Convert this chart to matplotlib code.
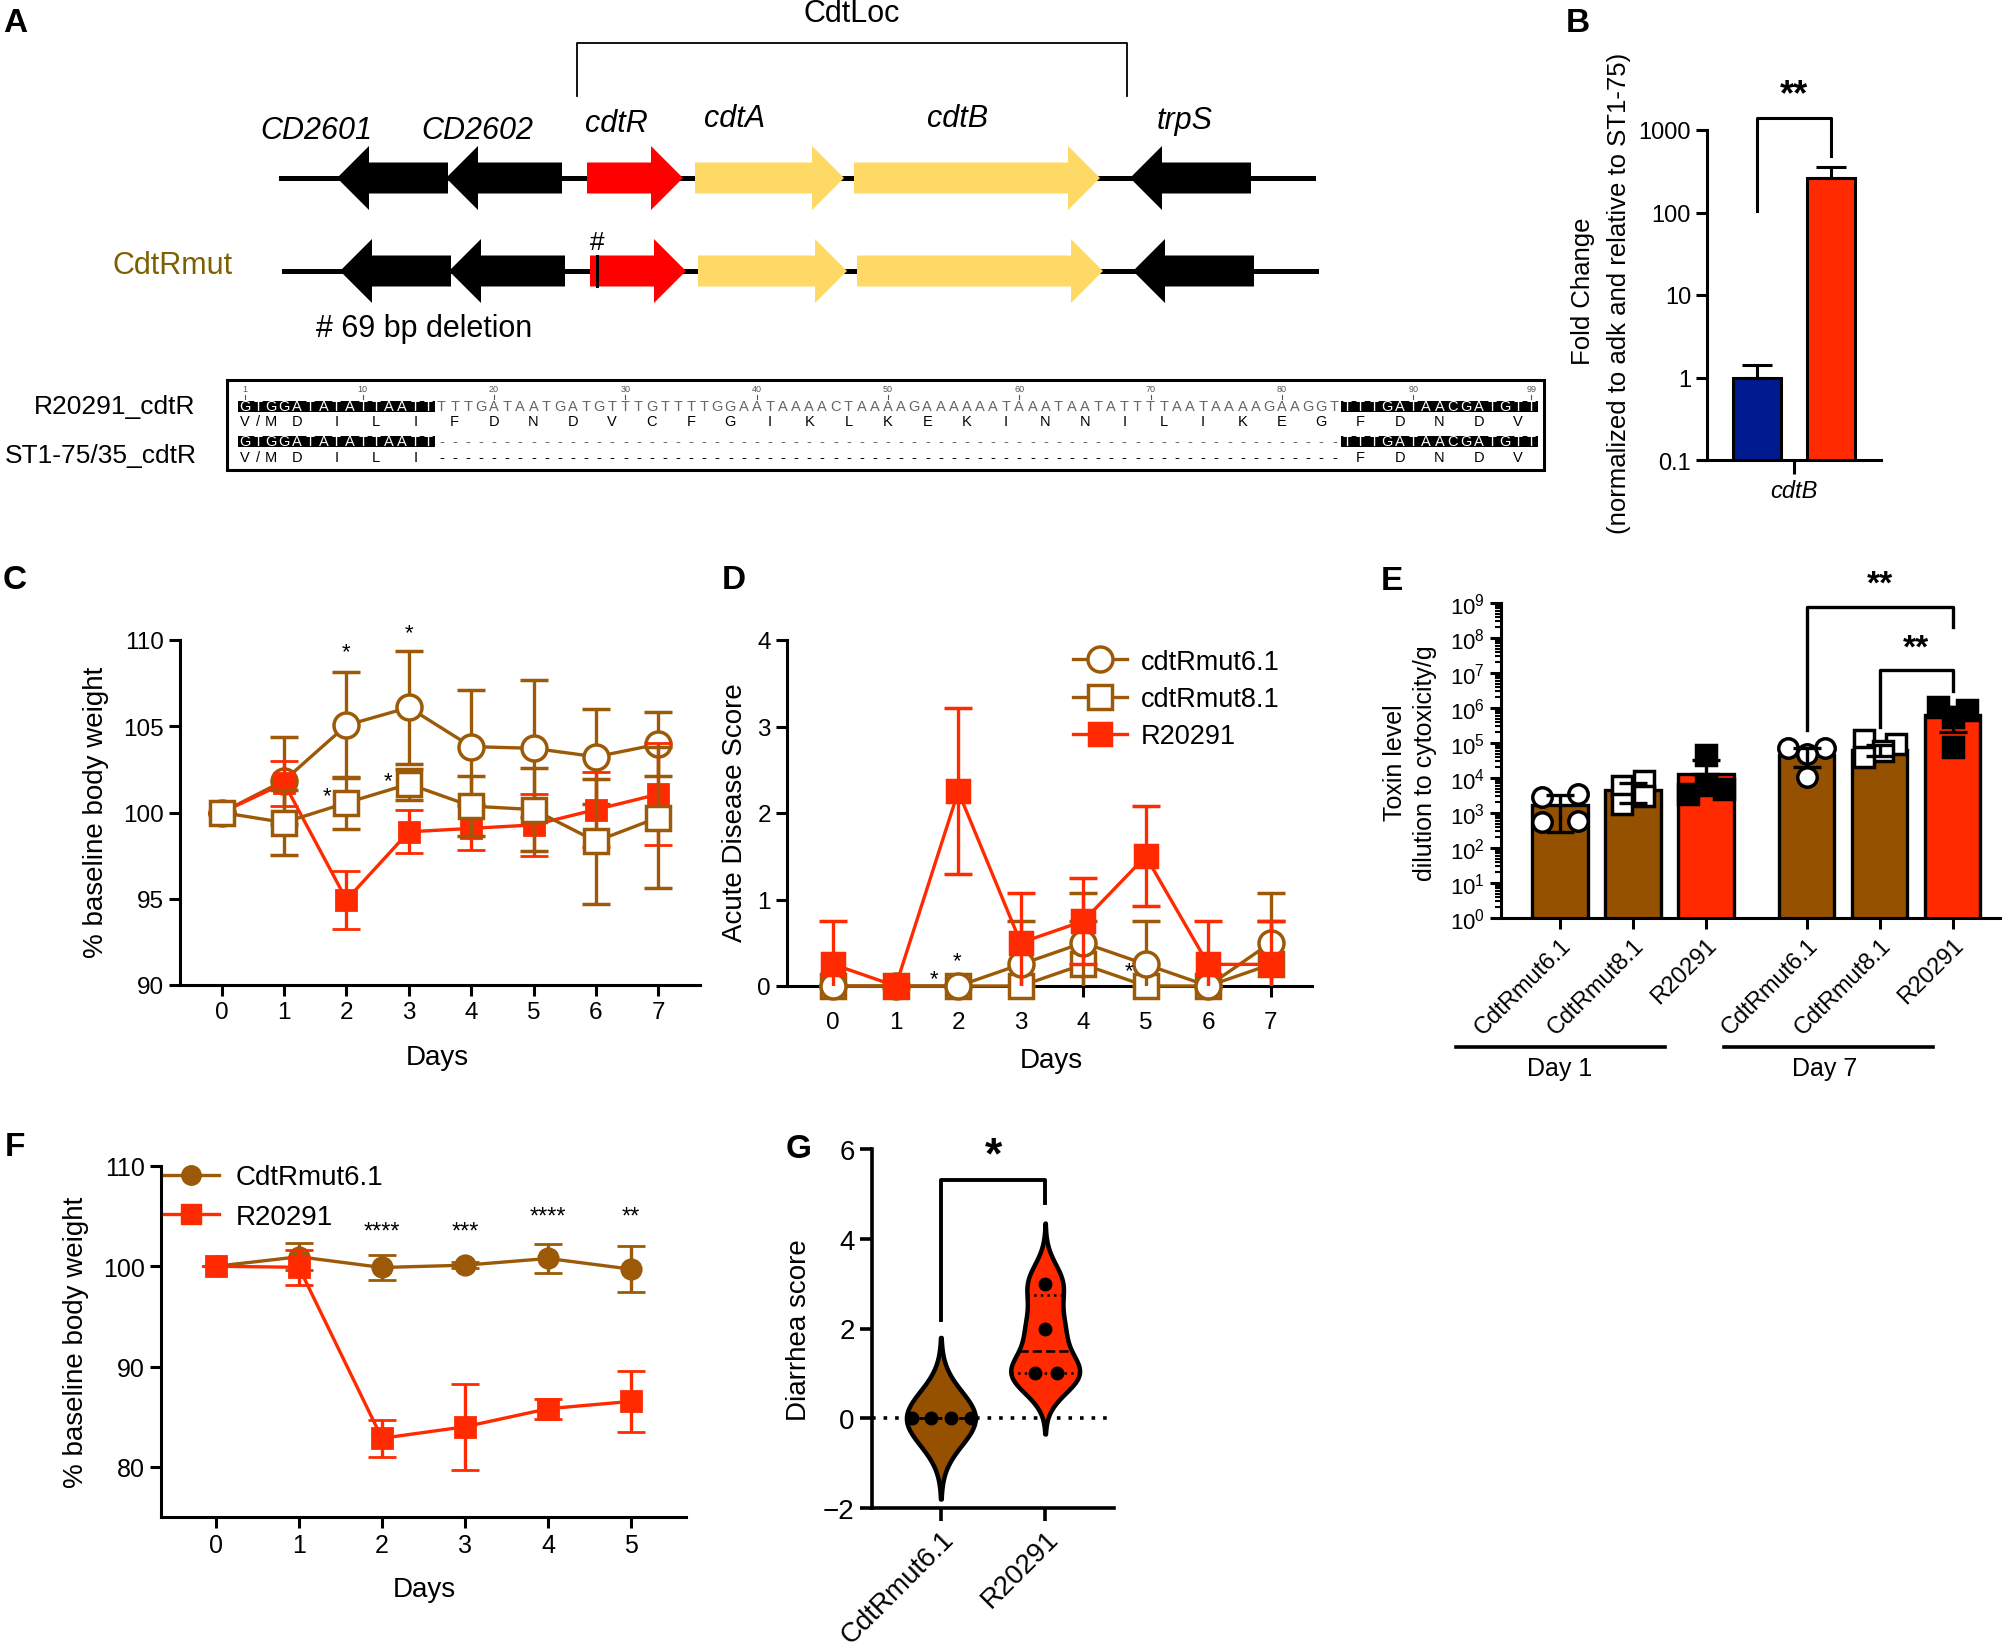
import numpy as np
import matplotlib
matplotlib.use('Agg')
import matplotlib.pyplot as plt
from matplotlib.patches import Polygon, Rectangle
from matplotlib.lines import Line2D
import matplotlib.ticker as mticker

plt.rcParams['font.family'] = ['Liberation Sans', 'DejaVu Sans']
plt.rcParams['mathtext.fontset'] = 'custom'
plt.rcParams['mathtext.rm'] = 'Liberation Sans'
plt.rcParams['mathtext.it'] = 'Liberation Sans:italic'
plt.rcParams['mathtext.bf'] = 'Liberation Sans:bold'

# ------------------------------------------------------------------ data
# Panel A: gene map (coordinates along the locus drawing)
gene_names = ['CD2601', 'CD2602', 'cdtR', 'cdtA', 'cdtB', 'trpS']
gene_left = [337, 446, 587, 695, 854, 1130]
gene_right = [448, 562, 683, 844, 1100, 1251]
gene_strand = [-1, -1, 1, 1, 1, -1]
gene_colors = ['black', 'black', '#FF0000', '#FFD966', '#FFD966', 'black']
locus_extent = [281, 1313]
cdtloc_extent = [577, 1127]
deletion_site = 597

seq_names = ['R20291_cdtR', 'ST1-75/35_cdtR']
seq_wt = ("GTGGATATATTAATT"
          "TTTGATAATGATGTTTGTTTTGGAATAAAACTAAAAGAAAAAATAAATAATATTTTAATAAAAGAAGGT"
          "TTTGATAACGATGTT")
seq_mut = "GTGGATATATTAATT" + "-" * 69 + "TTTGATAACGATGTT"
aa_wt = ['V/M', 'D', 'I', 'L', 'I', 'F', 'D', 'N', 'D', 'V', 'C', 'F', 'G', 'I', 'K',
         'L', 'K', 'E', 'K', 'I', 'N', 'N', 'I', 'L', 'I', 'K', 'E', 'G', 'F', 'D', 'N', 'D', 'V']
conserved_blocks = [(1, 15), (85, 99)]
seq_ticks = [1, 10, 20, 30, 40, 50, 60, 70, 80, 90, 99]

# Panel B
b_groups = ['ST1-75', 'R20291']
b_vals = [1.0, 265.0]
b_err = [0.4, 95.0]

# Panel C
days_c = [0, 1, 2, 3, 4, 5, 6, 7]
c_mut61 = [100, 101.85, 105.06, 106.09, 103.82, 103.72, 103.23, 103.96]
c_mut61_sd = [0, 2.5, 3.06, 3.26, 3.3, 3.97, 2.76, 1.87]
c_mut81 = [100, 99.42, 100.56, 101.65, 100.37, 100.17, 98.33, 99.71]
c_mut81_sd = [0, 1.9, 1.5, 0.9, 1.75, 2.4, 3.63, 4.08]
c_r20291 = [100, 101.7, 94.94, 98.88, 99.08, 99.28, 100.17, 101.06]
c_r20291_sd = [0, 1.3, 1.67, 1.24, 1.28, 1.8, 2.17, 2.96]

# Panel D
days_d = [0, 1, 2, 3, 4, 5, 6, 7]
d_mut61 = [0, 0, 0, 0.25, 0.5, 0.25, 0, 0.5]
d_mut61_sd = [0, 0, 0, 0.5, 0.58, 0.5, 0, 0.58]
d_mut81 = [0, 0, 0, 0, 0.25, 0, 0, 0.25]
d_mut81_sd = [0, 0, 0, 0, 0.5, 0, 0, 0.5]
d_r20291 = [0.25, 0, 2.25, 0.5, 0.75, 1.5, 0.25, 0.25]
d_r20291_sd = [0.5, 0, 0.96, 0.58, 0.5, 0.58, 0.5, 0.5]

# Panel E
e_labels = ['CdtRmut6.1', 'CdtRmut8.1', 'R20291', 'CdtRmut6.1', 'CdtRmut8.1', 'R20291']
e_days = ['Day 1', 'Day 7']
e_means = [1.7e3, 4.4e3, 1.3e4, 4.6e4, 6.4e4, 6.4e5]
e_err_lo = [2.9e2, 1.9e3, 1.3e4, 2.0e4, 4.3e4, 2.0e5]
e_err_hi = [3.3e3, 7.0e3, 3.2e4, 7.4e4, 8.5e4, 1.1e6]
e_points = [[2.9e3, 3.6e3, 5.5e2, 5.9e2],
            [5.9e3, 8.0e3, 1.85e3, 3.1e3],
            [4.4e4, 3.6e3, 6.2e3, 5.0e3],
            [7.2e4, 7.2e4, 5.0e4, 1.07e4],
            [1.2e5, 9.5e4, 6.0e4, 4.0e4],
            [1.07e6, 8.5e5, 5.5e5, 7.7e4]]

# Panel F
days_f = [0, 1, 2, 3, 4, 5]
f_mut61 = [100, 100.95, 99.88, 100.11, 100.78, 99.71]
f_mut61_sd = [0, 1.34, 1.2, 0.3, 1.47, 2.3]
f_r20291 = [100, 99.9, 82.85, 84.0, 85.8, 86.53]
f_r20291_sd = [0, 1.75, 1.83, 4.27, 1.0, 3.07]
f_stars = ['', '', '****', '***', '****', '**']

# Panel G
g_labels = ['CdtRmut6.1', 'R20291']
g_mut61 = [0, 0, 0, 0]
g_r20291 = [1, 1, 2, 3]

# ------------------------------------------------------------------ style
W, H = 2015, 1649
BROWN = '#9C5A08'
BROWN_E = '#955000'
RED = '#FF2A00'
BLUE = '#001A8F'
OLIVE = '#7F6000'

fig = plt.figure(figsize=(W / 100, H / 100), dpi=100)
ov = fig.add_axes([0, 0, 1, 1])
ov.set_xlim(0, W)
ov.set_ylim(H, 0)
ov.axis('off')


def ax_px(x0, y0, x1, y1):
    return fig.add_axes([x0 / W, 1 - y1 / H, (x1 - x0) / W, (y1 - y0) / H])


def style_axes(ax, lw=2.2, fs=18, tl=7):
    for s in ['top', 'right']:
        ax.spines[s].set_visible(False)
    for s in ['left', 'bottom']:
        ax.spines[s].set_linewidth(lw)
    ax.tick_params(width=lw, length=tl, labelsize=fs, direction='out')


# panel letters
for lab, (x, y) in zip('ABCDEFG', [(15, 23), (1578, 23), (15, 581), (734, 581),
                                   (1392, 582), (15, 1148), (799, 1150)]):
    ov.text(x, y, lab, fontsize=24, fontweight='bold', ha='center', va='center')

# ------------------------------------------------------------------ Panel A
label_pos = [(316, 131), (477, 131), (616, 124), (735, 119), (958, 119), (1185, 121)]
rows_y = [179, 272]
row_shift = [0, 3]
body, head, hl = 15.5, 32, 32
for r, yc in enumerate(rows_y):
    sh = row_shift[r]
    ov.plot([locus_extent[0] + sh, locus_extent[1] + sh], [yc, yc], color='black', lw=3.6, zorder=1)
    for name, l, rr, st, col in zip(gene_names, gene_left, gene_right, gene_strand, gene_colors):
        l += sh
        rr += sh
        if st > 0:
            pts = [(l, yc - body), (rr - hl, yc - body), (rr - hl, yc - head), (rr, yc),
                   (rr - hl, yc + head), (rr - hl, yc + body), (l, yc + body)]
        else:
            pts = [(rr, yc - body), (l + hl, yc - body), (l + hl, yc - head), (l, yc),
                   (l + hl, yc + head), (l + hl, yc + body), (rr, yc + body)]
        ov.add_patch(Polygon(pts, closed=True, facecolor=col, edgecolor='none', zorder=2))
for name, (x, y) in zip(gene_names, label_pos):
    ov.text(x, y, name, fontsize=22, fontstyle='italic', ha='center', va='center')

ov.plot([cdtloc_extent[0], cdtloc_extent[0], cdtloc_extent[1], cdtloc_extent[1]],
        [97, 44, 44, 97], color='black', lw=1.3)
ov.text(852, 14, 'CdtLoc', fontsize=22, ha='center', va='center')
ov.plot([deletion_site, deletion_site], [257, 287], color='black', lw=2.2, zorder=3)
ov.text(deletion_site, 243, '#', fontsize=19, ha='center', va='center')
ov.text(173, 266, 'CdtRmut', fontsize=22, color=OLIVE, ha='center', va='center')
ov.text(424, 329, '# 69 bp deletion', fontsize=22, ha='center', va='center')

# alignment
ov.add_patch(Rectangle((227, 381), 1317, 90, fill=False, lw=2.2, edgecolor='black'))
x0s, dx = 238, 13.13


def xpos(i):
    return x0s + (i - 0.5) * dx


def in_block(i):
    return any(a <= i <= b for a, b in conserved_blocks)


for t in seq_ticks:
    ov.text(xpos(t), 390, str(t), fontsize=6.5, color='#555555', ha='center', va='center')
    ov.plot([xpos(t), xpos(t)], [396, 400], color='#555555', lw=0.8)
for (a, b) in conserved_blocks:
    for yc in [407, 442]:
        ov.add_patch(Rectangle((xpos(a) - dx / 2, yc - 5.5), (b - a + 1) * dx, 11,
                               facecolor='black', edgecolor='none', zorder=2))
for row_seq, yc in [(seq_wt, 407), (seq_mut, 442)]:
    for i, ch in enumerate(row_seq, start=1):
        col = 'white' if in_block(i) else '#666666'
        ov.text(xpos(i), yc, ch, fontsize=10.5, color=col, ha='center', va='center', zorder=3)


def draw_aa(k, aa, yc):
    c = 3 * k + 2
    if len(aa) == 3:
        for j, ch in enumerate(aa):
            ov.text(xpos(c - 1 + j), yc, ch, fontsize=10.5, ha='center', va='center')
    else:
        ov.text(xpos(c), yc, aa, fontsize=10.5, ha='center', va='center')


for k, aa in enumerate(aa_wt):
    draw_aa(k, aa, 422)
    if in_block(3 * k + 2):
        draw_aa(k, aa, 458)
for i in range(1, 100):
    if not in_block(i):
        ov.text(xpos(i), 458, '-', fontsize=10.5, ha='center', va='center')
ov.text(195, 407, seq_names[0], fontsize=19, ha='right', va='center')
ov.text(197, 456, seq_names[1], fontsize=19, ha='right', va='center')

# ------------------------------------------------------------------ Panel B
axB = ax_px(1707, 131, 1881, 461)
style_axes(axB, fs=17, tl=8)
axB.set_yscale('log')
bx = [0, 1]
axB.bar(bx, b_vals, width=0.65, color=[BLUE, RED], edgecolor='black', linewidth=2.2, zorder=2)
axB.errorbar(bx, b_vals, yerr=[[0, 0], b_err], fmt='none', ecolor='black', elinewidth=2.2,
             capsize=11, capthick=2.2, zorder=3)
axB.set_xlim(-0.68, 1.68)
axB.set_ylim(0.1, 1000)
axB.set_yticks([0.1, 1, 10, 100, 1000])
axB.set_yticklabels(['0.1', '1', '10', '100', '1000'])
axB.yaxis.set_minor_locator(mticker.NullLocator())
axB.set_xticks([0.5])
axB.set_xticklabels(['cdtB'], fontstyle='italic')
axB.tick_params(axis='x', length=10)
axB.plot([0, 0, 1, 1], [105, 1380, 1380, 478], color='black', lw=2.2, clip_on=False)
axB.text(0.5, 2700, '**', fontsize=26, fontweight='bold', ha='center', va='center', clip_on=False)
ov.text(1583, 291, 'Fold Change', rotation=90, fontsize=18.5, ha='center', va='center')
ov.text(1619, 293, '(normalized to adk and relative to ST1-75)', rotation=90, fontsize=18.5,
        ha='center', va='center')

# ------------------------------------------------------------------ Panel C
axC = ax_px(180, 641, 700, 986)
style_axes(axC, fs=17.5, tl=8)
ebk = dict(elinewidth=2.4, capsize=10, capthick=2.4, lw=2.4)
axC.errorbar(days_c, c_mut61, yerr=c_mut61_sd, fmt='-o', color=BROWN, mfc='white', mec=BROWN,
             ms=18, mew=2.5, zorder=3, clip_on=False, **ebk)
axC.errorbar(days_c, c_r20291, yerr=c_r20291_sd, fmt='-s', color=RED, mfc=RED, mec=RED,
             ms=15, mew=2, zorder=4, clip_on=False, **ebk)
axC.errorbar(days_c, c_mut81, yerr=c_mut81_sd, fmt='-s', color=BROWN, mfc='white', mec=BROWN,
             ms=17, mew=2.5, zorder=5, clip_on=False, **ebk)
axC.set_xlim(-0.67, 7.67)
axC.set_ylim(90, 110)
axC.set_yticks([90, 95, 100, 105, 110])
axC.set_xticks(days_c)
for x, y in [(2, 109.3), (3, 110.45), (1.68, 100.95), (2.67, 101.85)]:
    axC.text(x, y, '*', fontsize=16, ha='center', va='center', clip_on=False)
ov.text(437, 1058, 'Days', fontsize=20, ha='center', va='center')
ov.text(96, 812, '% baseline body weight', rotation=90, fontsize=20, ha='center', va='center')

# ------------------------------------------------------------------ Panel D
axD = ax_px(787, 641, 1312, 987)
style_axes(axD, fs=17.5, tl=8)
d_series = [(d_mut61, d_mut61_sd, 'o', BROWN, 'white', 18, 4, 'cdtRmut6.1'),
            (d_mut81, d_mut81_sd, 's', BROWN, 'white', 17, 3, 'cdtRmut8.1'),
            (d_r20291, d_r20291_sd, 's', RED, RED, 16, 5, 'R20291')]
d_handles = []
for vals, sd, mk, col, fc, ms, zo, lab in d_series:
    cont = axD.errorbar(days_d, vals, yerr=sd, fmt='-' + mk, color=col, mfc=fc, mec=col,
                        ms=ms, mew=2.5, zorder=zo, **ebk)
    cont[0].set_clip_on(False)
    d_handles.append(Line2D([], [], color=col, marker=mk, ms=ms, mfc=fc, mec=col, mew=2.5,
                            lw=2.4, label=lab))
axD.set_xlim(-0.74, 7.66)
axD.set_ylim(0, 4)
axD.set_yticks([0, 1, 2, 3, 4])
axD.set_xticks(days_d)
axD.tick_params(axis='x', pad=10)
for x, y in [(1.62, 0.08), (1.98, 0.29), (4.73, 0.18)]:
    axD.text(x, y, '*', fontsize=16, ha='center', va='center', clip_on=False, zorder=6)
axD.legend(handles=d_handles, loc='upper left', bbox_to_anchor=(0.545, 0.975),
           frameon=False, fontsize=19.5, handlelength=2.0, handletextpad=0.5,
           borderpad=0, borderaxespad=0, labelspacing=0.42)
ov.text(1051, 1061, 'Days', fontsize=20, ha='center', va='center')
ov.text(735, 813, 'Acute Disease Score', rotation=90, fontsize=20, ha='center', va='center')

# ------------------------------------------------------------------ Panel E
axE = ax_px(1501, 604, 2000, 919)
style_axes(axE, fs=16, tl=8)
axE.set_yscale('log')
e_pos = [0, 1, 2, 3.38, 4.38, 5.38]
e_cols = [BROWN_E, BROWN_E, RED, BROWN_E, BROWN_E, RED]
e_mk = ['o', 's', 's', 'o', 's', 's']
e_fill = ['white', 'white', 'black', 'white', 'white', 'black']
e_offs = [[-0.25, 0.25, -0.25, 0.25], [-0.15, 0.15, -0.15, 0.15], [0.0, -0.25, 0.0, 0.25],
          [-0.25, 0.25, 0.0, 0.0], [-0.22, 0.22, 0.05, -0.22], [-0.2, 0.2, 0.0, 0.0]]
axE.bar(e_pos, e_means, width=0.76, color=e_cols, edgecolor='black', linewidth=2.4, zorder=2)
for p, pts, mk, fc, offs in zip(e_pos, e_points, e_mk, e_fill, e_offs):
    axE.plot(np.array(offs) + p, pts, linestyle='none', marker=mk, ms=14, mfc=fc, mec='black',
             mew=2.5, zorder=3, clip_on=False)
axE.errorbar(e_pos, e_means,
             yerr=[np.array(e_means) - np.array(e_err_lo), np.array(e_err_hi) - np.array(e_means)],
             fmt='none', ecolor='black', elinewidth=2.4, capsize=10, capthick=2.4, zorder=4)
axE.set_xlim(-0.81, 6.03)
axE.set_ylim(1, 1e9)
axE.set_yticks([10.0 ** k for k in range(10)])
axE.set_yticklabels([r'$10^{%d}$' % k for k in range(10)])
axE.yaxis.set_minor_locator(mticker.LogLocator(base=10, subs=np.arange(2, 10), numticks=20))
axE.yaxis.set_minor_formatter(mticker.NullFormatter())
axE.tick_params(axis='y', which='minor', length=4, width=1.5)
axE.set_xticks(e_pos)
axE.set_xticklabels(e_labels, rotation=45, ha='right', va='top', rotation_mode='anchor', fontsize=17)
axE.plot([3.38, 3.38, 5.38, 5.38], [10 ** 5.36, 10 ** 8.88, 10 ** 8.88, 10 ** 8.31],
         color='black', lw=2.4, clip_on=False)
axE.plot([4.38, 4.38, 5.38, 5.38], [10 ** 5.46, 10 ** 7.08, 10 ** 7.08, 10 ** 6.5],
         color='black', lw=2.4, clip_on=False)
axE.text(4.38, 10 ** 9.55, '**', fontsize=24, fontweight='bold', ha='center', va='center', clip_on=False)
axE.text(4.88, 10 ** 7.72, '**', fontsize=24, fontweight='bold', ha='center', va='center', clip_on=False)
trE = axE.get_xaxis_transform()
for (xa, xb), xc, lab in zip([(-1.42, 1.44), (2.25, 5.11)], [0.0, 3.63], e_days):
    axE.plot([xa, xb], [-0.41, -0.41], color='black', lw=2.6, transform=trE, clip_on=False)
    axE.text(xc, -0.475, lab, fontsize=18, ha='center', va='center', transform=trE)
ov.text(1395, 763, 'Toxin level', rotation=90, fontsize=18, ha='center', va='center')
ov.text(1425, 763, 'dilution to cytoxicity/g', rotation=90, fontsize=18, ha='center', va='center')

# ------------------------------------------------------------------ Panel F
axF = ax_px(161, 1167, 686, 1518)
style_axes(axF, fs=18, tl=8)
axF.errorbar(days_f, f_mut61, yerr=f_mut61_sd, fmt='-o', color=BROWN, mfc=BROWN, mec=BROWN,
             ms=14, mew=2, zorder=3, clip_on=False, **ebk)
axF.errorbar(days_f, f_r20291, yerr=f_r20291_sd, fmt='-s', color=RED, mfc=RED, mec=RED,
             ms=14, mew=2, zorder=4, clip_on=False, **ebk)
f_handles = [Line2D([], [], color=BROWN, marker='o', ms=14, mfc=BROWN, mec=BROWN, lw=2.4, label='CdtRmut6.1'),
             Line2D([], [], color=RED, marker='s', ms=14, mfc=RED, mec=RED, lw=2.4, label='R20291')]
axF.set_xlim(-0.66, 5.66)
axF.set_ylim(75, 110)
axF.set_yticks([80, 90, 100, 110])
axF.set_xticks(days_f)
for x, s in zip(days_f, f_stars):
    if s:
        axF.text(x, 103.5 if x < 4 else 105.0, s, fontsize=17, ha='center', va='center')
axF.legend(handles=f_handles, loc='upper left', bbox_to_anchor=(0.005, 1.005),
           frameon=False, fontsize=20, handlelength=2.0, handletextpad=0.6,
           borderpad=0, borderaxespad=0, labelspacing=0.5)
ov.text(424, 1590, 'Days', fontsize=20, ha='center', va='center')
ov.text(76, 1342, '% baseline body weight', rotation=90, fontsize=20, ha='center', va='center')

# ------------------------------------------------------------------ Panel G
axG = ax_px(872, 1150, 1114, 1509)
style_axes(axG, lw=2.6, fs=20, tl=9)
axG.axhline(0, color='black', ls=(0, (1, 2.2)), lw=2.6, zorder=1)


def kde(data, bw, grid):
    d = np.asarray(data, float)
    return np.exp(-0.5 * ((grid[:, None] - d[None, :]) / bw) ** 2).sum(1)


g_sets = [(0, g_mut61, 0.6, BROWN_E, [-0.28, -0.09, 0.1, 0.29]),
          (1, g_r20291, 0.45, RED, [-0.1, 0.11, 0.0, 0.0])]
for x, d, bw, col, offs in g_sets:
    grid = np.linspace(min(d) - 3 * bw, max(d) + 3 * bw, 400)
    dens = kde(d, bw, grid)
    dens = dens / dens.max() * 0.33
    axG.fill_betweenx(grid, x - dens, x + dens, facecolor=col, edgecolor='black', lw=3.2, zorder=2)
    q1, med, q3 = np.percentile(d, [25, 50, 75], method='weibull')
    for val, ls in [(q1, ':'), (q3, ':'), (med, '--')]:
        hw = np.interp(val, grid, dens)
        axG.plot([x - hw, x + hw], [val, val], color='black', ls=ls, lw=1.8, zorder=3)
    axG.plot(np.array(offs) + x, d, 'o', color='black', ms=9, zorder=4)
axG.set_xlim(-0.66, 1.66)
axG.set_ylim(-2, 6)
axG.set_yticks([-2, 0, 2, 4, 6])
axG.set_xticks([0, 1])
axG.set_xticklabels(g_labels, rotation=45, ha='right', va='top', rotation_mode='anchor')
axG.plot([0, 0, 1, 1], [2.2, 5.3, 5.3, 4.8], color='black', lw=2.8, clip_on=False)
axG.text(0.5, 5.85, '*', fontsize=32, fontweight='bold', ha='center', va='center', clip_on=False)
ov.text(799, 1330, 'Diarrhea score', rotation=90, fontsize=20, ha='center', va='center')

fig.savefig('out.png', dpi=100)
